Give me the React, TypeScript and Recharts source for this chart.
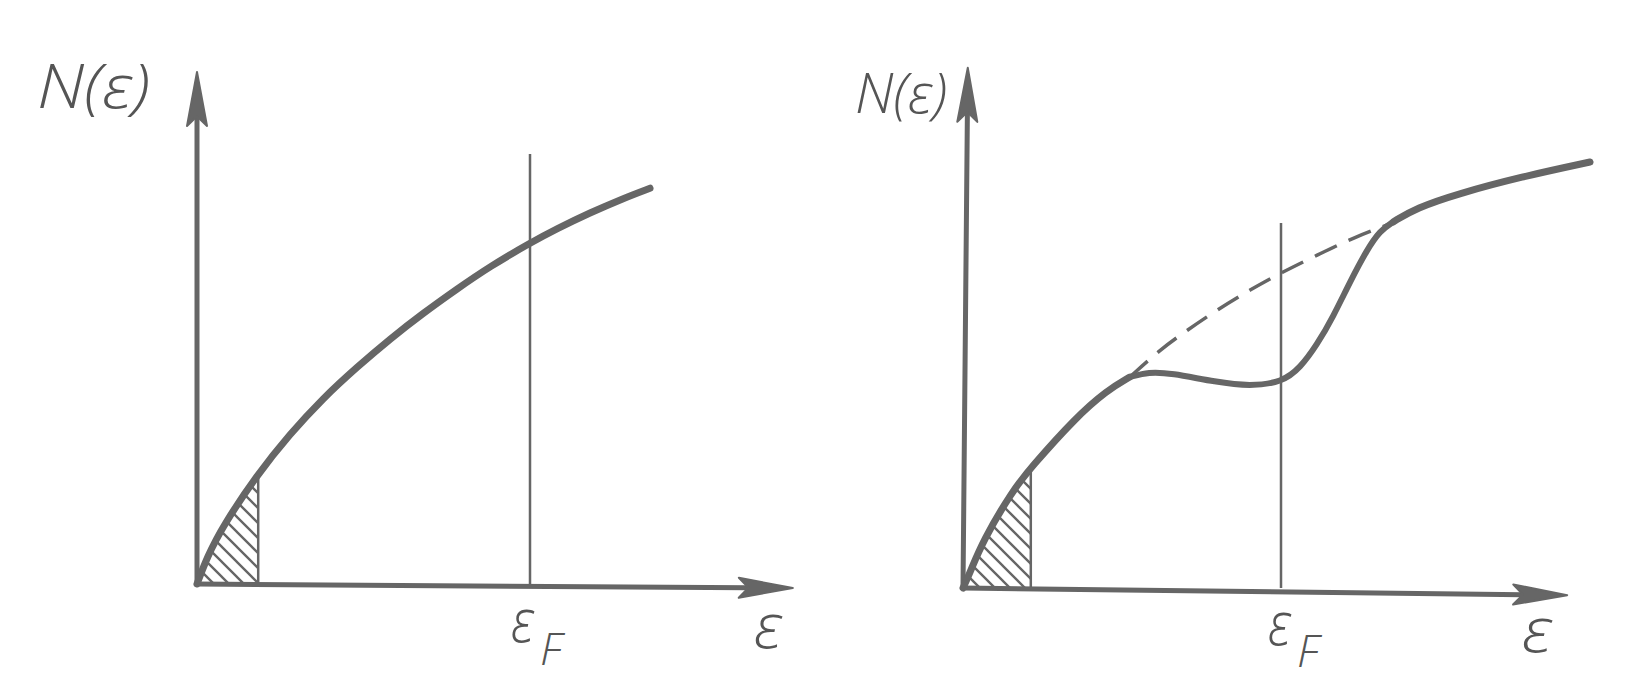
import React from 'react';
import { ComposedChart, Line, Area, XAxis, YAxis, ReferenceLine } from 'recharts';

// left panel: free-electron density of states
const leftCurve = [
  { e: 0, n: 0 },
  { e: 0.17, n: 0.53 },
  { e: 0.43, n: 1.13 },
  { e: 1.0, n: 2.13 },
  { e: 1.55, n: 2.93 },
  { e: 2.1, n: 3.63 },
  { e: 2.67, n: 4.24 },
  { e: 3.22, n: 4.79 },
  { e: 3.77, n: 5.29 },
  { e: 4.33, n: 5.76 },
  { e: 4.88, n: 6.2 },
  { e: 5.55, n: 6.66 },
  { e: 6.0, n: 6.94 },
  { e: 6.55, n: 7.25 },
  { e: 7.1, n: 7.53 },
  { e: 7.55, n: 7.73 },
];
const leftHatch = [
  { e: 0, n: 0 },
  { e: 0.17, n: 0.53 },
  { e: 0.43, n: 1.13 },
  { e: 1.02, n: 2.15 },
];
const leftFermi = 5.55;
const leftFermiTop = 8.4;
const leftHatchEdge = 1.02;

// right panel: curve with a dip near the Fermi level
const rightLower = [
  { e: 0, n: 0 },
  { e: 0.12, n: 0.31 },
  { e: 0.33, n: 0.92 },
  { e: 0.82, n: 1.89 },
  { e: 1.13, n: 2.35 },
  { e: 1.87, n: 3.32 },
  { e: 2.4, n: 3.86 },
  { e: 2.78, n: 4.12 },
];
const rightBump = [
  { e: 2.78, n: 4.12 },
  { e: 3.1, n: 4.22 },
  { e: 3.45, n: 4.2 },
  { e: 4.23, n: 4.02 },
  { e: 4.78, n: 3.94 },
  { e: 5.32, n: 4.02 },
  { e: 5.62, n: 4.3 },
  { e: 5.9, n: 4.75 },
  { e: 6.17, n: 5.3 },
  { e: 6.45, n: 5.98 },
  { e: 6.73, n: 6.6 },
  { e: 6.95, n: 6.98 },
  { e: 7.17, n: 7.15 },
];
const rightUpper = [
  { e: 7.17, n: 7.15 },
  { e: 7.55, n: 7.42 },
  { e: 8.25, n: 7.7 },
  { e: 9.3, n: 8.03 },
  { e: 10.45, n: 8.32 },
];
const rightDashed = [
  { e: 2.78, n: 4.12 },
  { e: 3.28, n: 4.65 },
  { e: 3.67, n: 4.98 },
  { e: 4.23, n: 5.43 },
  { e: 4.78, n: 5.82 },
  { e: 5.32, n: 6.17 },
  { e: 5.9, n: 6.5 },
  { e: 6.5, n: 6.84 },
  { e: 7.07, n: 7.09 },
];
const rightHatch = [
  { e: 0, n: 0 },
  { e: 0.12, n: 0.31 },
  { e: 0.33, n: 0.92 },
  { e: 0.82, n: 1.89 },
  { e: 1.13, n: 2.35 },
];
const rightFermi = 5.3;
const rightFermiTop = 7.13;
const rightHatchEdge = 1.13;

const INK = '#666';

const Arrow = (props: any) => {
  const { x1, y1, x2, y2 } = props;
  if ([x1, y1, x2, y2].some((v) => typeof v !== 'number' || isNaN(v))) return null;
  const dx = x2 - x1;
  const dy = y2 - y1;
  const len = Math.hypot(dx, dy);
  const ux = dx / len;
  const uy = dy / len;
  const px = -uy;
  const py = ux;
  const L = 54;
  const W = 10;
  const bx = x2 - ux * L;
  const by = y2 - uy * L;
  const nx = x2 - ux * L * 0.82;
  const ny = y2 - uy * L * 0.82;
  const pts = [
    `${x2},${y2}`,
    `${bx + px * W},${by + py * W}`,
    `${nx},${ny}`,
    `${bx - px * W},${by - py * W}`,
  ].join(' ');
  return (
    <g>
      <line x1={x1} y1={y1} x2={nx} y2={ny} stroke={INK} strokeWidth={5} strokeLinecap="round" />
      <polygon points={pts} fill={INK} stroke={INK} strokeWidth={2} strokeLinejoin="round" />
    </g>
  );
};

const txt = {
  fontFamily: '"Open Sans", "DejaVu Sans", sans-serif',
  fontStyle: 'italic' as const,
  fontWeight: 300,
  fill: '#555',
};

export default function App() {
  return (
    <div style={{ position: 'absolute', left: 0, top: 0, width: 1633, height: 699, background: '#fff', overflow: 'hidden' }}>
      <svg width={0} height={0} style={{ position: 'absolute' }}>
        <defs>
          <pattern id="hatch" patternUnits="userSpaceOnUse" width={15} height={15}>
            <path d="M-3,-3 L18,18 M-3,12 L3,18 M12,-3 L18,3" stroke={INK} strokeWidth={2.4} />
          </pattern>
        </defs>
      </svg>

      <div style={{ position: 'absolute', left: 177, top: 52 }}>
        <ComposedChart width={640} height={552} margin={{ top: 20, right: 20, bottom: 20, left: 20 }}>
          <XAxis type="number" dataKey="e" domain={[0, 10]} hide />
          <YAxis type="number" dataKey="n" domain={[0, 10]} hide />
          <Area data={leftHatch} dataKey="n" type="basis" stroke="none" fill="url(#hatch)" fillOpacity={1} isAnimationActive={false} />
          <ReferenceLine segment={[{ x: leftHatchEdge, y: 0 }, { x: leftHatchEdge, y: 2.15 }]} stroke={INK} strokeWidth={2.5} ifOverflow="visible" />
          <ReferenceLine segment={[{ x: leftFermi, y: 0 }, { x: leftFermi, y: leftFermiTop }]} stroke={INK} strokeWidth={2.5} ifOverflow="visible" />
          <ReferenceLine segment={[{ x: 0, y: 0 }, { x: 9.93, y: -0.08 }]} shape={Arrow} ifOverflow="visible" />
          <ReferenceLine segment={[{ x: 0, y: 0 }, { x: 0, y: 10 }]} shape={Arrow} ifOverflow="visible" />
          <Line data={leftCurve} dataKey="n" type="basis" stroke={INK} strokeWidth={7} dot={false} strokeLinecap="round" isAnimationActive={false} />
        </ComposedChart>
      </div>

      <div style={{ position: 'absolute', left: 943, top: 56 }}>
        <ComposedChart width={690} height={552} margin={{ top: 20, right: 10, bottom: 20, left: 20 }}>
          <XAxis type="number" dataKey="e" domain={[0, 11]} hide />
          <YAxis type="number" dataKey="n" domain={[0, 10]} hide />
          <Area data={rightHatch} dataKey="n" type="basis" stroke="none" fill="url(#hatch)" fillOpacity={1} isAnimationActive={false} />
          <ReferenceLine segment={[{ x: rightHatchEdge, y: 0 }, { x: rightHatchEdge, y: 2.3 }]} stroke={INK} strokeWidth={2.5} ifOverflow="visible" />
          <ReferenceLine segment={[{ x: rightFermi, y: 0 }, { x: rightFermi, y: rightFermiTop }]} stroke={INK} strokeWidth={2.5} ifOverflow="visible" />
          <ReferenceLine segment={[{ x: 0, y: 0 }, { x: 10.07, y: -0.14 }]} shape={Arrow} ifOverflow="visible" />
          <ReferenceLine segment={[{ x: 0, y: 0 }, { x: 0.08, y: 10.16 }]} shape={Arrow} ifOverflow="visible" />
          <Line data={rightDashed} dataKey="n" type="basis" stroke={INK} strokeWidth={3.5} strokeDasharray="24 13" dot={false} isAnimationActive={false} />
          <Line data={rightLower} dataKey="n" type="basis" stroke={INK} strokeWidth={7} dot={false} strokeLinecap="round" isAnimationActive={false} />
          <Line data={rightBump} dataKey="n" type="basis" stroke={INK} strokeWidth={6} dot={false} strokeLinecap="round" isAnimationActive={false} />
          <Line data={rightUpper} dataKey="n" type="basis" stroke={INK} strokeWidth={7} dot={false} strokeLinecap="round" isAnimationActive={false} />
        </ComposedChart>
      </div>

      <svg width={1633} height={699} style={{ position: 'absolute', left: 0, top: 0, pointerEvents: 'none' }}>
        <text x={37} y={108} fontSize={60} textLength={113} lengthAdjust="spacingAndGlyphs" style={txt}>N(ε)</text>
        <text x={855} y={113} fontSize={56} textLength={92} lengthAdjust="spacingAndGlyphs" style={txt}>N(ε)</text>
        <text x={511} y={642} fontSize={60} textLength={23} lengthAdjust="spacingAndGlyphs" style={txt}>ε</text>
        <text x={540} y={665} fontSize={45} style={txt}>F</text>
        <text x={754} y={648} fontSize={62} textLength={28} lengthAdjust="spacingAndGlyphs" style={txt}>ε</text>
        <text x={1268} y={645} fontSize={60} textLength={23} lengthAdjust="spacingAndGlyphs" style={txt}>ε</text>
        <text x={1297} y={667} fontSize={45} style={txt}>F</text>
        <text x={1522} y={652} fontSize={62} textLength={30} lengthAdjust="spacingAndGlyphs" style={txt}>ε</text>
      </svg>
    </div>
  );
}
